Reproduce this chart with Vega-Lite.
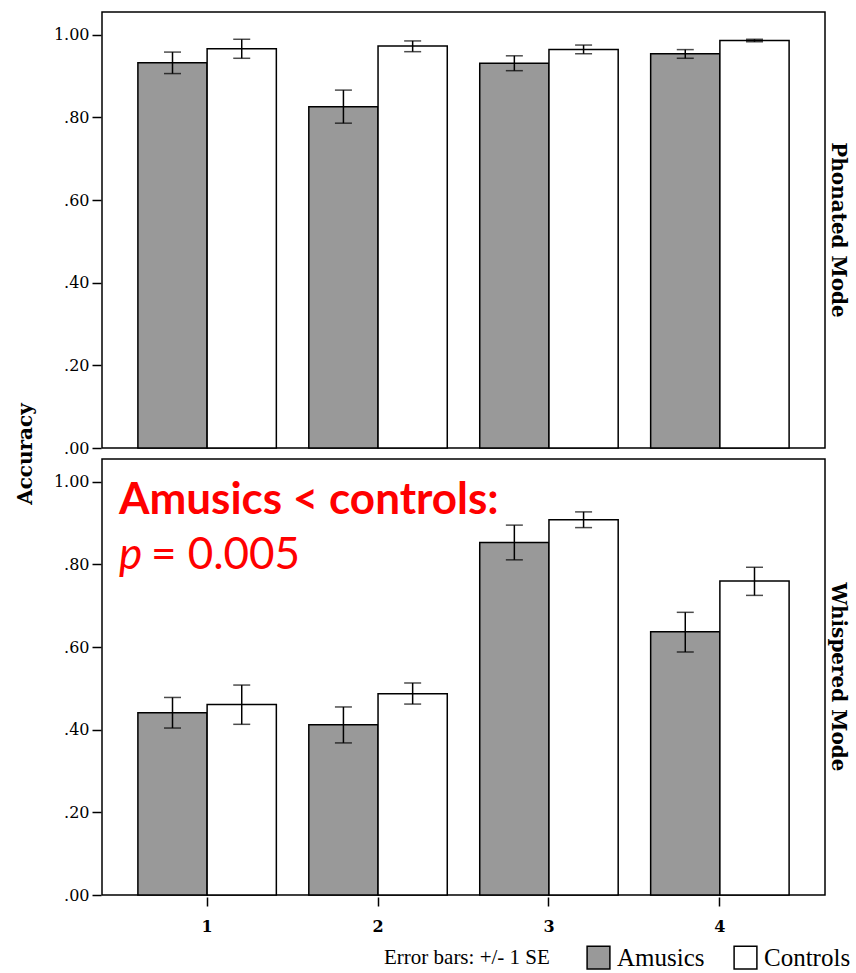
{
  "$schema": "https://vega.github.io/schema/vega-lite/v6.json",
  "padding": {"left": 15, "top": 11, "right": 0, "bottom": 0},
  "background": "white",
  "data": {"values": [
    {"kind": "bar", "mode": "Phonated Mode", "group": "1", "subject": "Amusics", "mean": 0.932, "lo": 0.906, "hi": 0.958},
    {"kind": "bar", "mode": "Phonated Mode", "group": "1", "subject": "Controls", "mean": 0.966, "lo": 0.943, "hi": 0.989},
    {"kind": "bar", "mode": "Phonated Mode", "group": "2", "subject": "Amusics", "mean": 0.826, "lo": 0.786, "hi": 0.866},
    {"kind": "bar", "mode": "Phonated Mode", "group": "2", "subject": "Controls", "mean": 0.973, "lo": 0.959, "hi": 0.985},
    {"kind": "bar", "mode": "Phonated Mode", "group": "3", "subject": "Amusics", "mean": 0.931, "lo": 0.913, "hi": 0.949},
    {"kind": "bar", "mode": "Phonated Mode", "group": "3", "subject": "Controls", "mean": 0.964, "lo": 0.954, "hi": 0.975},
    {"kind": "bar", "mode": "Phonated Mode", "group": "4", "subject": "Amusics", "mean": 0.954, "lo": 0.943, "hi": 0.964},
    {"kind": "bar", "mode": "Phonated Mode", "group": "4", "subject": "Controls", "mean": 0.986, "lo": 0.983, "hi": 0.989},
    {"kind": "bar", "mode": "Whispered Mode", "group": "1", "subject": "Amusics", "mean": 0.441, "lo": 0.404, "hi": 0.478},
    {"kind": "bar", "mode": "Whispered Mode", "group": "1", "subject": "Controls", "mean": 0.461, "lo": 0.413, "hi": 0.508},
    {"kind": "bar", "mode": "Whispered Mode", "group": "2", "subject": "Amusics", "mean": 0.412, "lo": 0.368, "hi": 0.455},
    {"kind": "bar", "mode": "Whispered Mode", "group": "2", "subject": "Controls", "mean": 0.487, "lo": 0.462, "hi": 0.513},
    {"kind": "bar", "mode": "Whispered Mode", "group": "3", "subject": "Amusics", "mean": 0.853, "lo": 0.811, "hi": 0.895},
    {"kind": "bar", "mode": "Whispered Mode", "group": "3", "subject": "Controls", "mean": 0.908, "lo": 0.889, "hi": 0.927},
    {"kind": "bar", "mode": "Whispered Mode", "group": "4", "subject": "Amusics", "mean": 0.637, "lo": 0.588, "hi": 0.684},
    {"kind": "bar", "mode": "Whispered Mode", "group": "4", "subject": "Controls", "mean": 0.760, "lo": 0.725, "hi": 0.793},
    {"kind": "note1", "mode": "Whispered Mode", "group": "1", "mean": 0.9225, "label": "Amusics < controls:"},
    {"kind": "note2", "mode": "Whispered Mode", "group": "1", "mean": 0.789, "label": "p"},
    {"kind": "note3", "mode": "Whispered Mode", "group": "1", "mean": 0.789, "label": "= 0.005"}
  ]},
  "facet": {
    "row": {
      "field": "mode", "type": "nominal",
      "sort": ["Phonated Mode", "Whispered Mode"],
      "title": "Accuracy",
      "header": {
        "titleOrient": "left",
        "titleAngle": -90,
        "titleFont": "DejaVu Serif",
        "titleFontWeight": "bold",
        "titleFontSize": 20,
        "titleColor": "black",
        "titlePadding": -13,
        "labelOrient": "right",
        "labelAngle": 90,
        "labelFont": "DejaVu Serif",
        "labelFontWeight": "bold",
        "labelFontSize": 20,
        "labelColor": "black",
        "labelPadding": 2
      }
    }
  },
  "spacing": 8,
  "spec": {
    "width": 723,
    "height": 436,
    "layer": [
      {
        "transform": [{"filter": "datum.kind == 'bar'"}],
        "mark": {"type": "bar", "stroke": "black", "strokeWidth": 1.5},
        "encoding": {
          "x": {"field": "group", "type": "nominal", "title": null,
                "scale": {"paddingInner": 0.19, "paddingOuter": 0.21},
                "axis": {"labelAngle": 0}},
          "xOffset": {"field": "subject", "type": "nominal", "scale": {"paddingInner": 0, "paddingOuter": 0}},
          "y": {"field": "mean", "type": "quantitative", "title": null,
                "scale": {"domain": [0, 1.055], "nice": false},
                "axis": {"values": [0, 0.2, 0.4, 0.6, 0.8, 1.0],
                         "labelExpr": "datum.value >= 1 ? format(datum.value, '.2f') : slice(format(datum.value, '.2f'), 1)"}},
          "color": {
            "field": "subject", "type": "nominal",
            "scale": {"domain": ["Amusics", "Controls"], "range": ["#999999", "#ffffff"]},
            "legend": {
              "title": "Error bars: +/- 1 SE",
              "titleOrient": "left",
              "orient": "none",
              "direction": "horizontal",
              "legendX": 282,
              "legendY": 933
            }
          }
        }
      },
      {
        "transform": [{"filter": "datum.kind == 'bar'"}],
        "mark": {"type": "rule", "color": "black", "strokeWidth": 1.5},
        "encoding": {
          "x": {"field": "group", "type": "nominal", "title": null},
          "xOffset": {"field": "subject", "type": "nominal"},
          "y": {"field": "lo", "type": "quantitative", "title": null},
          "y2": {"field": "hi"}
        }
      },
      {
        "transform": [{"filter": "datum.kind == 'bar'"}],
        "mark": {"type": "tick", "color": "black", "size": 17, "thickness": 1.5},
        "encoding": {
          "x": {"field": "group", "type": "nominal", "title": null},
          "xOffset": {"field": "subject", "type": "nominal"},
          "y": {"field": "lo", "type": "quantitative", "title": null}
        }
      },
      {
        "transform": [{"filter": "datum.kind == 'bar'"}],
        "mark": {"type": "tick", "color": "black", "size": 17, "thickness": 1.5},
        "encoding": {
          "x": {"field": "group", "type": "nominal", "title": null},
          "xOffset": {"field": "subject", "type": "nominal"},
          "y": {"field": "hi", "type": "quantitative", "title": null}
        }
      },
      {
        "transform": [{"filter": "datum.kind == 'note1'"}],
        "mark": {"type": "text", "color": "#ff0000", "font": "Lato", "fontWeight": "bold", "fontSize": 44, "align": "left", "baseline": "alphabetic", "dx": -19},
        "encoding": {
          "x": {"field": "group", "type": "nominal", "title": null, "bandPosition": 0},
          "y": {"field": "mean", "type": "quantitative", "title": null},
          "text": {"field": "label"}
        }
      },
      {
        "transform": [{"filter": "datum.kind == 'note2'"}],
        "mark": {"type": "text", "color": "#ff0000", "font": "Lato", "fontStyle": "italic", "fontSize": 44, "align": "left", "baseline": "alphabetic", "dx": -19},
        "encoding": {
          "x": {"field": "group", "type": "nominal", "title": null, "bandPosition": 0},
          "y": {"field": "mean", "type": "quantitative", "title": null},
          "text": {"field": "label"}
        }
      },
      {
        "transform": [{"filter": "datum.kind == 'note3'"}],
        "mark": {"type": "text", "color": "#ff0000", "font": "Lato", "fontSize": 44, "align": "left", "baseline": "alphabetic", "dx": 13},
        "encoding": {
          "x": {"field": "group", "type": "nominal", "title": null, "bandPosition": 0},
          "y": {"field": "mean", "type": "quantitative", "title": null},
          "text": {"field": "label"}
        }
      }
    ]
  },
  "config": {
    "view": {"stroke": "black", "strokeWidth": 1.5},
    "axis": {
      "domain": false,
      "grid": false,
      "tickColor": "black",
      "tickWidth": 1.5,
      "tickSize": 9,
      "labelFont": "DejaVu Serif",
      "labelFontSize": 16,
      "labelColor": "black",
      "labelPadding": 3
    },
    "axisX": {
      "labelFontWeight": "bold",
      "labelPadding": 12
    },
    "legend": {
      "symbolType": "square",
      "symbolSize": 520,
      "symbolStrokeColor": "black",
      "symbolStrokeWidth": 1.5,
      "labelFont": "Liberation Serif",
      "labelFontSize": 25,
      "labelColor": "black",
      "labelOffset": 6,
      "titleFont": "Liberation Serif",
      "titleFontWeight": "normal",
      "titleFontSize": 21,
      "titleColor": "black",
      "titlePadding": 36,
      "columnPadding": 26,
      "titleBaseline": "middle"
    }
  }
}
